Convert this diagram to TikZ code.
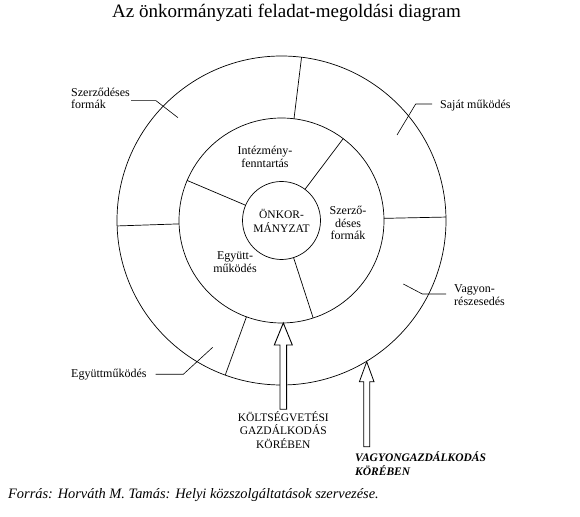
\documentclass[tikz,border=0pt]{standalone}
\usepackage{fontspec}
\setmainfont{Liberation Serif}

\tikzset{
  ring/.style={line width=0.7pt},
  leader/.style={line width=0.6pt},
  lab/.style={inner ysep=1pt,font=\fontsize{12}{12.8}\selectfont},
  caps/.style={inner sep=0pt,font=\fontsize{11.5}{13.3}\selectfont},
  blockarrow/.style={line width=0.8pt,fill=white,line join=miter},
}

\begin{document}
\begin{tikzpicture}[x=1pt,y=1pt]
  \useasboundingbox (0,0) rectangle (580,516);

  \node (title) [anchor=base,inner sep=0pt,font=\fontsize{19}{22}\selectfont] at (286.5,498) {Az önkormányzati feladat-megoldási diagram};

  % rings
  \coordinate (c) at (281.5,295.5);
  \draw[ring] (c) circle[radius=164.5pt];
  \draw[ring] (c) circle[radius=102.5pt];
  \node (core) [ring,draw,circle,minimum size=78pt,inner sep=0pt,align=center,
    font=\fontsize{11.5}{14}\selectfont] at (c) {ÖNKOR-\\MÁNYZAT};
  \begin{scope}[shift={(c)}]
    \foreach \a in {157,53,-72}
      \draw[ring] (\a:39) -- (\a:102.5);
    \foreach \a in {181.9,1.2,83,250}
      \draw[ring] (\a:102.5) -- (\a:164.5);
  \end{scope}

  % inner ring (base = last line)
  \node (instit) [lab,anchor=base,align=center] at (265,348.7) {Intézmény-\\fenntartás};
  \node (contract) [lab,anchor=base,align=center] at (348,276) {Szerző-\\déses\\formák};
  \node (coop) [lab,anchor=base,align=center] at (235,243.3) {Együtt-\\működés};

  % outer ring
  \node (contractout) [lab,inner xsep=1pt,anchor=base west,align=left] at (70,407) {Szerződéses\\formák};
  \node (own) [lab,inner xsep=8pt,anchor=base west] at (432,407.7) {Saját működés};
  \node (assets) [lab,inner xsep=8pt,anchor=base west,align=left] at (446,210.7) {Vagyon-\\részesedés};
  \node (coopout) [lab,inner xsep=9pt,anchor=base west] at (62,138.7) {Együttműködés};

  \coordinate (contractout-bend) at (156,415.3);
  \coordinate (contractout-end) at (178,398.3);
  \coordinate (own-bend) at (415.7,412);
  \coordinate (own-end) at (397,381);
  \coordinate (assets-bend) at (422.3,222);
  \coordinate (assets-end) at (403.3,232);
  \coordinate (coopout-bend) at (183.3,141.7);
  \coordinate (coopout-end) at (212.7,168.7);

  \draw[leader] (contractout.east |- contractout-bend) -- (contractout-bend) -- (contractout-end);
  \draw[leader] (own.west |- own-bend) -- (own-bend) -- (own-end);
  \draw[leader] (assets.west |- assets-bend) -- (assets-bend) -- (assets-end);
  \draw[leader] (coopout.east |- coopout-bend) -- (coopout-bend) -- (coopout-end);

  % arrows
  \node (budget) [caps,anchor=base,align=center] at (283.3,67.7) {KÖLTSÉGVETÉSI\\GAZDÁLKODÁS\\KÖRÉBEN};
  \node (property) [caps,anchor=base west,align=left,font=\fontsize{11.5}{13.3}\selectfont\bfseries\itshape] at (355,41) {VAGYONGAZDÁLKODÁS\\KÖRÉBEN};

  \coordinate (budget-tip) at (283.3,193);
  \coordinate (property-tip) at (366.7,154.3);
  \draw[blockarrow,line width=0.9pt] (budget-tip) -- ++(9,-22) -- ++(-5.7,0) -- ++(0,-64.3) -- ++(-6.6,0) -- ++(0,64.3) -- ++(-5.7,0) -- cycle;
  \draw[blockarrow] (property-tip) -- ++(7.3,-20) -- ++(-4.3,0) -- ++(0,-65) -- ++(-6,0) -- ++(0,65) -- ++(-4.3,0) -- cycle;

  \node (source) [anchor=base west,inner sep=0pt,font=\fontsize{14.4}{16}\selectfont\itshape] at (8,18) {Forrás: Horváth M. Tamás: Helyi közszolgáltatások szervezése.};
\end{tikzpicture}
\end{document}
